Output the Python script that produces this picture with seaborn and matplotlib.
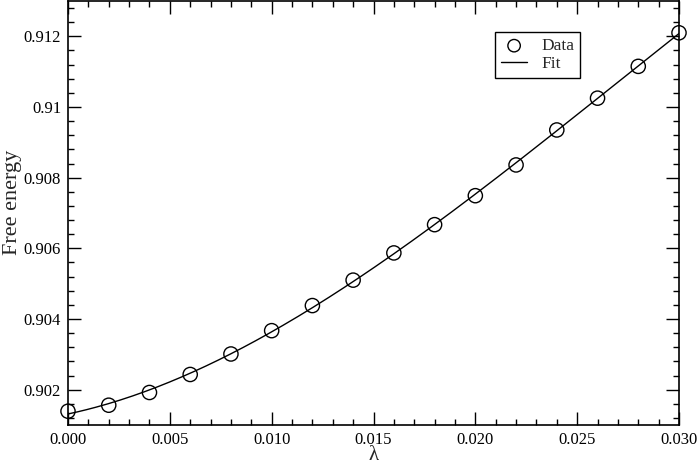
import numpy as np
import pandas as pd
import matplotlib
matplotlib.use("Agg")
import matplotlib.pyplot as plt
from matplotlib.ticker import MultipleLocator, FuncFormatter
import seaborn as sns

lam = [0.000, 0.002, 0.004, 0.006, 0.008, 0.010, 0.012, 0.014, 0.016,
       0.018, 0.020, 0.022, 0.024, 0.026, 0.028, 0.030]
free_energy = [0.90139, 0.90156, 0.90192, 0.90243, 0.90301, 0.90367, 0.90438,
               0.90510, 0.90587, 0.90667, 0.90749, 0.90836, 0.90935, 0.91025,
               0.91115, 0.91210]

sns.set_theme(style="ticks")
plt.rcParams['font.family'] = ['Liberation Serif', 'DejaVu Serif']

df = pd.DataFrame({"lam": lam, "fe": free_energy})
coef = np.polyfit(df["lam"], df["fe"], 3)
xf = np.linspace(min(lam), max(lam), 200)
fit = pd.DataFrame({"lam": xf, "fe": np.polyval(coef, xf)})

fig = plt.figure(figsize=(6.98, 4.67), dpi=100)
L, R, T, B = 68, 679, 1, 425
ax = fig.add_axes([L/698, 1-B/467, (R-L)/698, (B-T)/467])

sns.lineplot(data=fit, x="lam", y="fe", ax=ax, color="black", lw=1.0, label="Fit")
sns.scatterplot(data=df, x="lam", y="fe", ax=ax, marker="o", s=105,
                facecolor="none", edgecolor="black", linewidth=1.0, label="Data",
                zorder=3, clip_on=False)

ax.set_xlim(0, 0.03)
ax.set_ylim(0.901, 0.913)
ax.xaxis.set_major_locator(MultipleLocator(0.005))
ax.xaxis.set_minor_locator(MultipleLocator(0.001))
ax.yaxis.set_major_locator(MultipleLocator(0.002))
ax.yaxis.set_minor_locator(MultipleLocator(0.0004))
ax.xaxis.set_major_formatter(FuncFormatter(lambda v, p: f"{v:.3f}"))
ax.yaxis.set_major_formatter(FuncFormatter(lambda v, p: f"{v:.3f}".rstrip('0') if v else "0"))
ax.tick_params(which="both", direction="in", top=True, right=True, colors="black",
               labelsize=12.0, width=1.0)
ax.tick_params(which="major", length=9.5, pad=5)
ax.tick_params(which="minor", length=4.3)
for s in ax.spines.values():
    s.set_color("black")
    s.set_linewidth(1.2)

ax.set_xlabel("λ", fontsize=15)
ax.xaxis.set_label_coords(0.5, (B - 446) / (B - T))
ax.set_ylabel("Free energy", fontsize=16)
ax.yaxis.set_label_coords((22 - L) / (R - L), (B - 202) / (B - T))

h, l = ax.get_legend_handles_labels()
order = [l.index("Data"), l.index("Fit")]
leg = ax.legend([h[i] for i in order], [l[i] for i in order], loc="upper left",
                bbox_to_anchor=((495 - L) / (R - L), (B - 32) / (B - T)),
                borderaxespad=0, fontsize=12.5,
                frameon=True, fancybox=False, edgecolor="black", framealpha=1,
                handlelength=1.5, handletextpad=0.8, borderpad=0.35, labelspacing=0.1)
leg.get_frame().set_linewidth(1.0)
for hd in leg.legend_handles:
    if hasattr(hd, "set_sizes"):
        hd.set_sizes([80])

fig.savefig("out.png", dpi=100)
